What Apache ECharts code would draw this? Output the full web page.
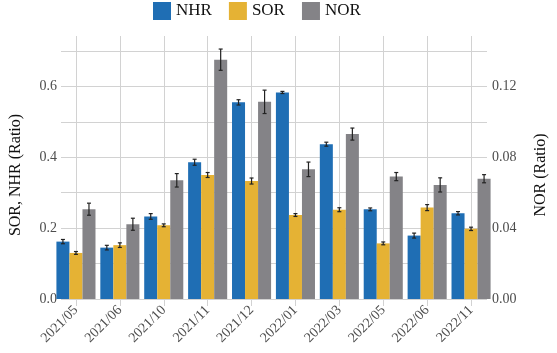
<!DOCTYPE html>
<html>
<head>
<meta charset="utf-8">
<script src="https://cdn.jsdelivr.net/npm/echarts@6/dist/echarts.min.js"></script>
<style>html,body{margin:0;padding:0;background:#fff}#c{width:557px;height:353px}</style>
</head>
<body>
<div id="c"></div>
<script>
const categories = ['2021/05','2021/06','2021/10','2021/11','2021/12','2022/01','2022/03','2022/05','2022/06','2022/11'];
const nhr    = [0.162, 0.145, 0.233, 0.386, 0.555, 0.583, 0.437, 0.253, 0.179, 0.242];
const nhrErr = [0.006, 0.0065, 0.008, 0.0085, 0.0075, 0.003, 0.0056, 0.004, 0.007, 0.0047];
const sor    = [0.130, 0.152, 0.208, 0.350, 0.333, 0.237, 0.252, 0.157, 0.258, 0.198];
const sorErr = [0.004, 0.0065, 0.004, 0.007, 0.0085, 0.004, 0.0056, 0.004, 0.0085, 0.0047];
const nor    = [0.0507, 0.0422, 0.0670, 0.1351, 0.1113, 0.0732, 0.0931, 0.0691, 0.0644, 0.0679];
const norErr = [0.0034, 0.0034, 0.0038, 0.006, 0.0066, 0.0041, 0.0034, 0.0023, 0.004, 0.0023];
const leftTickLabels  = [0, 0.2, 0.4, 0.6];
const rightTickLabels = [0, 0.04, 0.08, 0.12];

const FONT = "'Liberation Serif', 'Times New Roman', serif";
const COLORS = ['#1f6eb4', '#e5b234', '#848387'];
const GAP = 0.11;
const GRID_COLOR = '#d2d2d2';
const LABEL_COLOR = '#4d4d4d';

const chart = echarts.init(document.getElementById('c'), null, {renderer: 'canvas'});

function errSeries(name, vals, errs, k, yIdx) {
  return {
    type: 'custom', name: name + '_err', xAxisIndex: 1, yAxisIndex: yIdx, z: 10,
    silent: true,
    data: vals.map((v, i) => [i, v, errs[i]]),
    renderItem: function (params, api) {
      const idx = api.value(0), v = api.value(1), e = api.value(2);
      const c = api.coord([idx, v]);
      const band = api.size([1, 0])[0];
      const barW = band * (1 - GAP) / 3;
      const x = c[0] + (k - 1) * barW;
      const top = api.coord([idx, v + e])[1];
      const bot = api.coord([idx, v - e])[1];
      const st = {stroke: '#222', lineWidth: 1.2};
      const h = 2;
      return {type: 'group', children: [
        {type: 'line', shape: {x1: x, y1: top, x2: x, y2: bot}, style: st},
        {type: 'line', shape: {x1: x - h, y1: top, x2: x + h, y2: top}, style: st},
        {type: 'line', shape: {x1: x - h, y1: bot, x2: x + h, y2: bot}, style: st}
      ]};
    }
  };
}

const option = {
  animation: false,
  backgroundColor: '#fff',
  textStyle: {fontFamily: FONT},
  legend: {
    left: 153, top: 2, padding: 0, itemWidth: 18, itemHeight: 18, itemGap: 17,
    data: ['NHR', 'SOR', 'NOR'],
    textStyle: {fontFamily: FONT, fontSize: 17, color: '#111'},
    icon: 'rect'
  },
  grid: [
    {left: 49, right: 60, top: 51, bottom: 54},
    {left: 54, right: 64, top: 36, bottom: 54},
    {left: 76, right: 86, top: 36, bottom: 54}
  ],
  xAxis: [
    {gridIndex: 0, type: 'value', show: false, min: 0, max: 1},
    {gridIndex: 1, type: 'category', data: categories,
     axisLine: {show: false}, axisTick: {show: false}, splitLine: {show: false},
     axisLabel: {rotate: 45, interval: 0, fontFamily: FONT, fontSize: 14, color: LABEL_COLOR, margin: 9}
    },
    {gridIndex: 2, type: 'category', data: categories, boundaryGap: false,
     axisLine: {show: false}, axisLabel: {show: false, interval: 0},
     axisTick: {show: true, interval: 0, length: 7, lineStyle: {color: GRID_COLOR}},
     splitLine: {show: true, interval: 0, lineStyle: {color: GRID_COLOR, width: 1}}
    }
  ],
  yAxis: [
    {gridIndex: 0, type: 'value', min: 0, max: 0.7, interval: 0.1, position: 'left',
     name: 'SOR, NHR (Ratio)', nameLocation: 'middle', nameGap: 37, nameRotate: 90,
     nameTextStyle: {fontFamily: FONT, fontSize: 16, color: '#111'},
     axisLine: {show: false}, axisTick: {show: false},
     splitLine: {show: true, lineStyle: {color: GRID_COLOR, width: 1}},
     axisLabel: {fontFamily: FONT, fontSize: 14, color: LABEL_COLOR, margin: 4,
       formatter: v => leftTickLabels.some(t => Math.abs(t - v) < 1e-6) ? v.toFixed(1) : ''}
    },
    {gridIndex: 0, type: 'value', min: 0, max: 0.14, interval: 0.02, position: 'right',
     name: 'NOR (Ratio)', nameLocation: 'middle', nameGap: 46, nameRotate: 90,
     nameTextStyle: {fontFamily: FONT, fontSize: 16, color: '#111'},
     axisLine: {show: false}, axisTick: {show: false}, splitLine: {show: false},
     axisLabel: {fontFamily: FONT, fontSize: 14, color: LABEL_COLOR, margin: 5,
       formatter: v => rightTickLabels.some(t => Math.abs(t - v) < 1e-6) ? v.toFixed(2) : ''}
    },
    {gridIndex: 1, type: 'value', min: 0, max: 0.7 * 263 / 248, show: false},
    {gridIndex: 1, type: 'value', min: 0, max: 0.14 * 263 / 248, show: false},
    {gridIndex: 2, type: 'value', min: 0, max: 1, show: false}
  ],
  series: [
    {name: 'NHR', type: 'bar', xAxisIndex: 1, yAxisIndex: 2, data: nhr,
     barGap: '0%', barCategoryGap: (GAP * 100) + '%', itemStyle: {color: COLORS[0]}},
    {name: 'SOR', type: 'bar', xAxisIndex: 1, yAxisIndex: 2, data: sor,
     itemStyle: {color: COLORS[1]}},
    {name: 'NOR', type: 'bar', xAxisIndex: 1, yAxisIndex: 3, data: nor,
     itemStyle: {color: COLORS[2]}},
    errSeries('NHR', nhr, nhrErr, 0, 2),
    errSeries('SOR', sor, sorErr, 1, 2),
    errSeries('NOR', nor, norErr, 2, 3)
  ]
};
chart.setOption(option);
</script>
</body>
</html>
